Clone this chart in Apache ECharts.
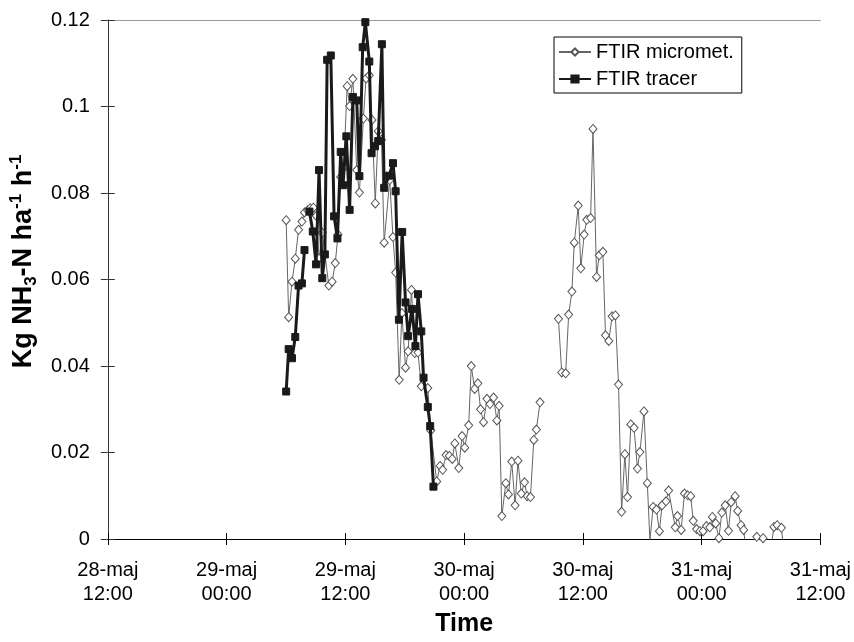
<!DOCTYPE html>
<html>
<head>
<meta charset="utf-8">
<script src="https://cdn.jsdelivr.net/npm/echarts@6/dist/echarts.min.js"></script>
<style>html,body{margin:0;padding:0;background:#fff}#c{width:854px;height:642px}</style>
</head>
<body>
<div id="c"></div>
<script>
// x positions in hours after 28-maj 12:00
const tickLabels = ['28-maj\n12:00','29-maj\n00:00','29-maj\n12:00','30-maj\n00:00','30-maj\n12:00','31-maj\n00:00','31-maj\n12:00'];
const seriesNames = ['FTIR micromet.', 'FTIR tracer'];

const micrometHours = [18.02,18.27,18.61,18.94,19.27,19.61,19.87,20.19,20.44,20.77,21.07,21.34,21.67,22.33,22.66,22.98,23.26,23.53,23.83,24.18,24.43,24.76,25.15,25.42,25.82,26.09,26.42,26.69,27.02,27.32,27.65,27.92,28.48,28.81,29.08,29.44,29.71,30.08,30.34,30.68,31.01,31.34,31.67,32.33,32.63,33.23,33.57,33.83,34.17,34.50,34.80,35.06,35.46,35.79,36.06,36.46,36.72,37.06,37.39,37.66,37.96,38.31,38.61,38.98,39.31,39.54,39.81,40.21,40.48,40.81,41.15,41.44,41.77,42.10,42.37,42.70,43.04,43.30,43.67,44.6,45.53,45.86,46.26,46.56,46.89,47.13,47.53,47.79,48.13,48.39,48.78,49.02,49.38,49.65,50.02,50.28,50.62,50.95,51.28,51.60,51.91,52.24,52.51,52.84,53.17,53.51,53.76,54.17,54.51,54.77,55.10,55.43,55.73,56.00,56.40,56.66,57.33,57.56,57.93,58.26,58.59,58.89,59.15,59.49,59.82,60.15,60.49,60.82,61.08,61.42,61.74,62.04,62.38,62.71,62.98,63.38,63.64,63.98,64.24,64.56,64.91,65.25,65.57,65.90,66.20,66.55,66.90,67.30,67.63,68.06,68.39];
const micrometValues = [0.0737,0.0513,0.0595,0.0648,0.0715,0.0734,0.0755,0.0760,0.0765,0.0766,0.0747,0.0648,0.0708,0.0586,0.0595,0.0638,0.0704,0.0837,0.0859,0.1047,0.1001,0.1064,0.0853,0.0801,0.0972,0.1065,0.1072,0.0969,0.0776,0.0943,0.0923,0.0685,0.0830,0.0698,0.0616,0.0368,0.0522,0.0396,0.0434,0.0576,0.0430,0.0431,0.0353,0.0349,0.0251,0.0133,0.0169,0.0160,0.0194,0.0192,0.0185,0.0221,0.0164,0.0238,0.0211,0.0263,0.0400,0.0347,0.0360,0.0300,0.0270,0.0324,0.0312,0.0327,0.0274,0.0308,0.0053,0.0129,0.0103,0.0179,0.0078,0.0181,0.0105,0.0131,0.0099,0.0097,0.0229,0.0253,0.0316,null,0.0509,0.0385,0.0383,0.0519,0.0572,0.0685,0.0771,0.0626,0.0704,0.0738,0.0742,0.0948,0.0606,0.0656,0.0664,0.0471,0.0458,0.0515,0.0517,0.0357,0.0063,0.0196,0.0097,0.0265,0.0257,0.0163,0.0201,0.0295,0.0129,-0.0003,0.0074,0.0068,0.0018,0.0078,0.0087,0.0112,0.0027,0.0053,0.0021,0.0105,0.0101,0.0099,0.0042,0.0023,0.0018,0.0018,0.0030,0.0027,0.0051,0.0036,0.0002,0.0061,0.0078,0.0019,0.0085,0.0099,0.0065,0.0032,0.0021,-0.004,-0.006,-0.002,0.0005,-0.001,0.0002,-0.004,-0.004,0.0028,0.0032,0.0026,-0.005];

const tracerHours = [18.02,18.27,18.61,18.94,19.27,19.61,19.87,20.1,20.37,20.71,21.04,21.34,21.67,21.93,22.16,22.53,22.86,23.20,23.53,23.76,24.10,24.43,24.76,25.15,25.42,25.75,26.02,26.42,26.65,26.99,27.32,27.69,27.92,28.42,28.81,29.08,29.41,29.74,30.08,30.34,30.74,31.08,31.34,31.67,31.90,32.33,32.57,32.90];
const tracerValues = [0.0341,0.0439,0.0418,0.0467,0.0586,0.0591,0.0668,null,0.0757,0.0711,0.0635,0.0853,0.0603,0.0658,0.1108,0.1118,0.0746,0.0695,0.0895,0.0818,0.0931,0.0761,0.1022,0.1014,0.0839,0.1137,0.1195,0.1104,0.0892,0.0908,0.0920,0.1144,0.0812,0.0840,0.0869,0.0804,0.0507,0.0710,0.0547,0.0469,0.0532,0.0446,0.0566,0.0480,0.0373,0.0305,0.0261,0.0121];

function pairs(hs, vs){ return hs.map((h,i)=>[h, vs[i]===null ? '-' : vs[i]]); }

const FONT = 'Liberation Sans, Arial, sans-serif';
const chart = echarts.init(document.getElementById('c'), null, {renderer:'canvas'});
const xBase = {type:'value', min:0, max:72, interval:12, gridIndex:0};
const yBase = {type:'value', min:0, max:0.12, interval:0.02, gridIndex:0};
chart.setOption({
  animation:false,
  backgroundColor:'#fff',
  grid:{left:100, right:32, top:20, bottom:98, containLabel:false},
  legend:{
    left:554, top:37, orient:'vertical',
    data:seriesNames,
    borderColor:'#000', borderWidth:1, borderRadius:0,
    padding:[4,8,3,4], itemWidth:32, itemHeight:9, itemGap:5,
    textStyle:{fontFamily:FONT, fontSize:20, color:'#000', lineHeight:22}
  },
  xAxis:[
    Object.assign({}, xBase, {
      position:'bottom',
      name:'Time', nameLocation:'middle', nameGap:73,
      nameTextStyle:{fontFamily:FONT, fontSize:25, fontWeight:'bold', color:'#000'},
      axisLine:{show:true, lineStyle:{color:'#000', width:1}},
      axisTick:{show:true, inside:false, length:6, lineStyle:{color:'#000'}},
      axisLabel:{show:true, margin:19, fontFamily:FONT, fontSize:20, color:'#000', lineHeight:24,
        formatter:(v)=>tickLabels[Math.round(v/12)]},
      splitLine:{show:false}
    }),
    Object.assign({}, xBase, {
      position:'bottom',
      axisLine:{show:false},
      axisTick:{show:true, inside:true, length:6, lineStyle:{color:'#000'}},
      axisLabel:{show:false}, splitLine:{show:false}
    }),
    Object.assign({}, xBase, {
      position:'top',
      axisLine:{show:true, lineStyle:{color:'#999', width:1}},
      axisTick:{show:false}, axisLabel:{show:false}, splitLine:{show:false}
    })
  ],
  yAxis:[
    Object.assign({}, yBase, {
      position:'left',
      name:'{b|Kg NH}{sub|3}{b|-N ha}{sup|-1}{b| h}{sup|-1}',
      nameLocation:'middle', nameGap:60, nameRotate:90,
      nameTextStyle:{
        fontFamily:FONT, color:'#000', padding:[0,0,0,36],
        rich:{
          b:{fontFamily:FONT, fontSize:27, fontWeight:'bold', color:'#000', lineHeight:32, verticalAlign:'middle'},
          sub:{fontFamily:FONT, fontSize:17, fontWeight:'bold', color:'#000', lineHeight:15, verticalAlign:'bottom'},
          sup:{fontFamily:FONT, fontSize:17, fontWeight:'bold', color:'#000', lineHeight:15, verticalAlign:'top'}
        }
      },
      axisLine:{show:true, lineStyle:{color:'#333', width:1}},
      axisTick:{show:true, inside:false, length:7, lineStyle:{color:'#333'}},
      axisLabel:{show:true, margin:18, fontFamily:FONT, fontSize:20, color:'#000',
        formatter:(v)=>String(Math.round(v*100)/100)},
      splitLine:{show:false}
    }),
    Object.assign({}, yBase, {
      position:'left',
      axisLine:{show:false},
      axisTick:{show:true, inside:true, length:7, lineStyle:{color:'#333'}},
      axisLabel:{show:false}, splitLine:{show:false}
    })
  ],
  series:[
    {
      name:seriesNames[0], type:'line', xAxisIndex:0, yAxisIndex:0,
      data:pairs(micrometHours, micrometValues),
      symbol:'diamond', symbolSize:[8,9], showSymbol:true, clip:true,
      lineStyle:{color:'#666', width:1},
      itemStyle:{color:'#fff', borderColor:'#555', borderWidth:1},
      connectNulls:false, z:2
    },
    {
      name:seriesNames[1], type:'line', xAxisIndex:0, yAxisIndex:0,
      data:pairs(tracerHours, tracerValues),
      symbol:'rect', symbolSize:7, showSymbol:true, clip:true,
      lineStyle:{color:'#1a1a1a', width:3},
      itemStyle:{color:'#1a1a1a', borderColor:'#1a1a1a', borderWidth:1},
      connectNulls:false, z:3
    }
  ]
});
</script>
</body>
</html>
